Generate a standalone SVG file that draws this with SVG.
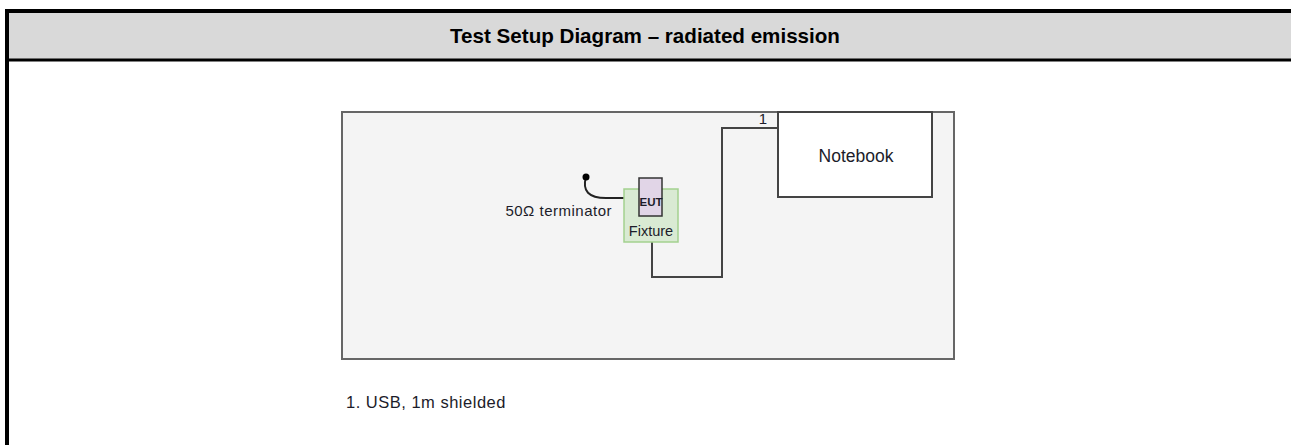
<svg xmlns="http://www.w3.org/2000/svg" width="1291" height="445" viewBox="0 0 1291 445">
<style>
.lbl{font-family:"Liberation Sans",Arial,sans-serif;fill:#1c1c2a}
.wire{fill:none;stroke:#444;stroke-width:2}
</style>
<rect x="0" y="0" width="1291" height="445" fill="#ffffff"/>
<g id="table">
<rect x="7" y="11" width="1290" height="49" fill="#d9d9d9"/>
<line x1="5" y1="11" x2="1291" y2="11" stroke="#000" stroke-width="4"/>
<line x1="7" y1="9" x2="7" y2="445" stroke="#000" stroke-width="4"/>
<line x1="5" y1="60" x2="1291" y2="60" stroke="#000" stroke-width="3"/>
<text x="645" y="43" text-anchor="middle" font-family="'Liberation Sans',Arial,sans-serif" font-weight="bold" font-size="20.6" fill="#000">Test Setup Diagram – radiated emission</text>
</g>
<g id="room">
<rect x="342" y="112" width="612" height="247" fill="#f4f4f4" stroke="#666" stroke-width="2"/>
</g>
<g id="connectors">
<polyline class="wire" points="652,242 652,277 722,277 722,128 778,128"/>
<path d="M586,177 Q580,198 606,198 L630,198" fill="none" stroke="#222" stroke-width="2"/>
<circle cx="586" cy="177" r="3.5" fill="#000"/>
<circle cx="630" cy="198" r="3.5" fill="#000"/>
<text class="lbl" x="763" y="124" text-anchor="middle" font-size="15">1</text>
</g>
<g id="notebook">
<rect x="778" y="112" width="154" height="85" fill="#ffffff" stroke="#444" stroke-width="2"/>
<text class="lbl" x="856" y="162" text-anchor="middle" font-size="17.5">Notebook</text>
</g>
<g id="fixture">
<rect x="624" y="189" width="54" height="53" fill="#d9ead3" stroke="#a3d18f" stroke-width="1.5"/>
<text class="lbl" x="651" y="236" text-anchor="middle" font-size="14.5">Fixture</text>
</g>
<g id="eut">
<rect x="639" y="178" width="23" height="38" fill="#e1d5e7" stroke="#333" stroke-width="1.5"/>
<text class="lbl" x="651" y="206" text-anchor="middle" font-size="11.5" font-weight="bold">EUT</text>
</g>
<g id="terminator">
<text class="lbl" x="612" y="216" text-anchor="end" font-size="15" letter-spacing="0.5">50Ω terminator</text>
</g>
<g id="legend">
<text class="lbl" x="346" y="408" font-size="16.5" letter-spacing="0.5">1. USB, 1m shielded</text>
</g>
</svg>
